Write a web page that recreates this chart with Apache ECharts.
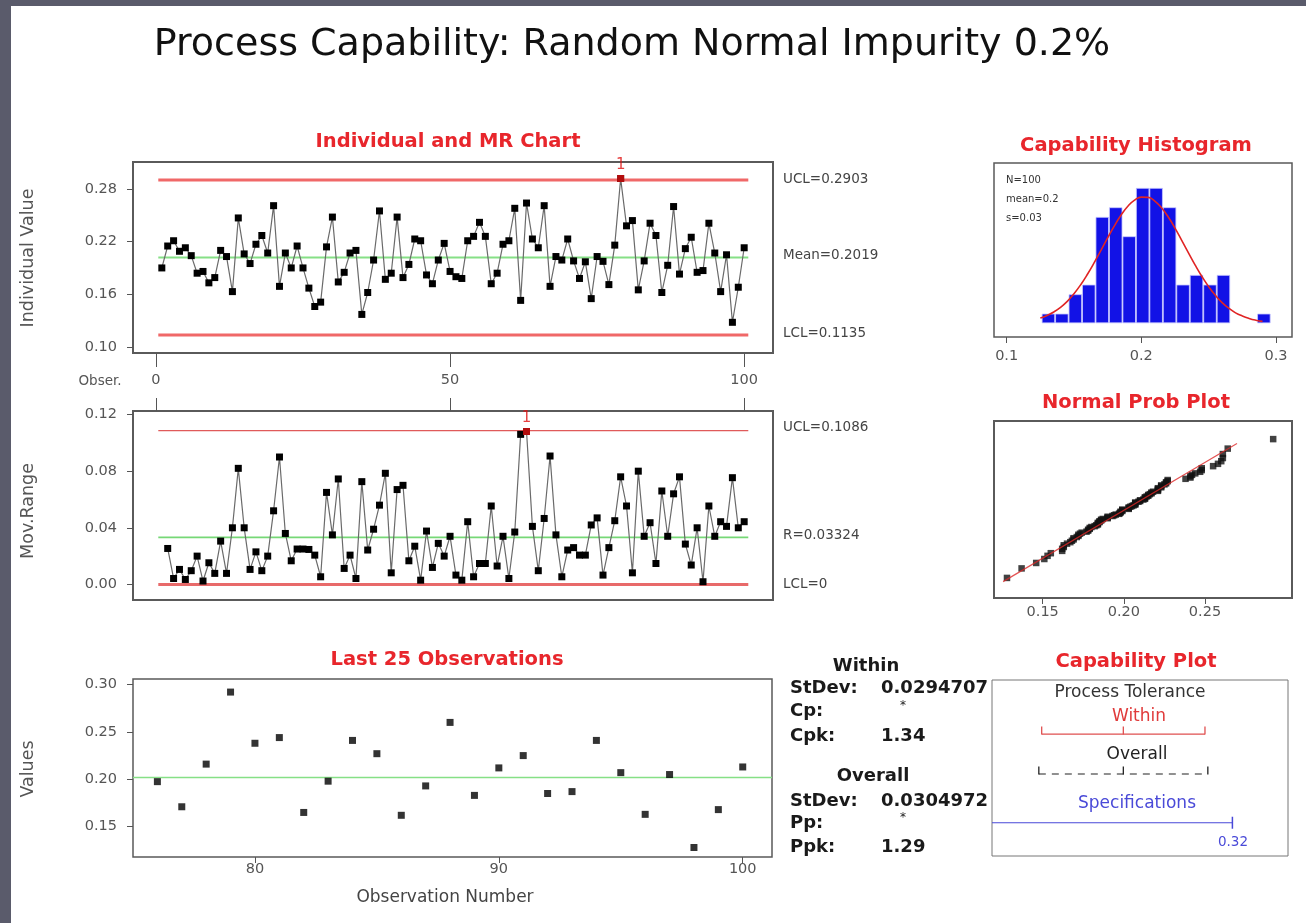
<!DOCTYPE html>
<html><head><meta charset="utf-8">
<script src="https://cdn.jsdelivr.net/npm/echarts@6/dist/echarts.min.js"></script>
<style>
html,body{margin:0;padding:0;background:#5a5b6b;}
#chart{position:absolute;left:0;top:0;width:1306px;height:923px;
background:linear-gradient(#fff,#fff) 11px 6px/1295px 917px no-repeat,#5a5b6b;}
</style></head><body><div id="chart"></div>
<script>
// ---------------- data ----------------
const observations = [
 0.190,0.215,0.221,0.209,0.213,0.204,0.184,0.186,0.173,0.179,
 0.210,0.203,0.163,0.247,0.206,0.195,0.217,0.227,0.207,0.261,
 0.169,0.207,0.190,0.215,0.190,0.167,0.146,0.151,0.214,0.248,
 0.174,0.185,0.207,0.210,0.137,0.162,0.199,0.255,0.177,0.184,
 0.248,0.179,0.194,0.223,0.221,0.182,0.172,0.199,0.218,0.186,
 0.180,0.178,0.221,0.226,0.242,0.226,0.172,0.184,0.217,0.221,
 0.258,0.153,0.264,0.223,0.213,0.261,0.169,0.203,0.199,0.223,
 0.198,0.178,0.197,0.155,0.203,0.1975,0.171,0.216,0.292,0.238,
 0.244,0.165,0.198,0.241,0.227,0.162,0.193,0.260,0.183,0.212,
 0.225,0.185,0.187,0.241,0.207,0.163,0.205,0.128,0.168,0.213
];
// moving ranges for observations 2..100
const movingRanges = [
 0.0254,0.0042,0.0106,0.0035,0.0097,0.020,0.0024,0.0153,0.0078,0.0306,
 0.0078,0.040,0.082,0.040,0.0106,0.023,0.0097,0.020,0.052,0.090,
 0.036,0.0167,0.025,0.025,0.0247,0.0207,0.0054,0.065,0.035,0.0745,
 0.0113,0.0207,0.0042,0.0726,0.0243,0.039,0.056,0.0785,0.0082,0.067,
 0.070,0.0167,0.027,0.003,0.0377,0.012,0.029,0.020,0.034,0.0066,
 0.003,0.0443,0.0054,0.0148,0.0148,0.0554,0.013,0.034,0.0042,0.037,
 0.106,0.108,0.041,0.0097,0.0466,0.0907,0.035,0.0054,0.0243,0.026,
 0.0207,0.0207,0.042,0.047,0.0066,0.026,0.045,0.076,0.0554,0.0082,
 0.080,0.034,0.0436,0.0148,0.066,0.034,0.064,0.076,0.0285,0.0137,
 0.040,0.0019,0.0554,0.034,0.0443,0.041,0.0754,0.040,0.0443
];
const individualLimits = [0.1135, 0.2019, 0.2903];   // LCL, Mean, UCL
const mrLimits = [0, 0.03324, 0.1086];               // LCL, R-bar, UCL
const individualFlags = [79];
const mrFlags = [63];
const last25First = 76;

const histBinCenters = [0.131,0.141,0.151,0.161,0.171,0.181,0.191,0.201,0.211,0.221,0.231,0.241,0.251,0.261,0.271,0.281,0.291];
const histCounts     = [1,1,3,4,11,12,9,14,14,12,4,5,4,5,0,0,1];
const normCurveX = [0.125,0.13,0.135,0.14,0.145,0.15,0.155,0.16,0.165,0.17,0.175,0.18,0.185,0.19,0.195,0.2,0.205,0.21,0.215,0.22,0.225,0.23,0.235,0.24,0.245,0.25,0.255,0.26,0.265,0.27,0.275,0.28,0.285,0.29];
const normCurveY = [0.54,0.81,1.17,1.65,2.27,3.06,3.99,5.07,6.27,7.55,8.84,10.08,11.20,12.11,12.74,13.05,13.02,12.64,11.94,10.99,9.85,8.58,7.29,6.02,4.84,3.79,2.89,2.14,1.55,1.08,0.75,0.50,0.32,0.20];

const probLineX = [0.1256, 0.2697];
const probLineZ = [-2.59, 2.30];

const withinTolerance  = [0.1135, 0.2019, 0.2903];
const overallTolerance = [0.1104, 0.2019, 0.2934];
const specLine = [0.0597, 0.32];   // line runs from the left edge to USL

const obsTicks = [0, 50, 100];
const indTicks = [0.10, 0.16, 0.22, 0.28];
const mrTicks = [0, 0.04, 0.08, 0.12];
const last25XTicks = [80, 90, 100];
const last25YTicks = [0.15, 0.20, 0.25, 0.30];
const histXTicks = [0.1, 0.2, 0.3];
const probXTicks = [0.15, 0.20, 0.25];

// ---------------- helpers ----------------
const FF = '"DejaVu Sans"';
const AX = '#555';
function normInv(p){
  const a=[-3.969683028665376e+01,2.209460984245205e+02,-2.759285104469687e+02,1.383577518672690e+02,-3.066479806614716e+01,2.506628277459239e+00];
  const b=[-5.447609879822406e+01,1.615858368580409e+02,-1.556989798598866e+02,6.680131188771972e+01,-1.328068155288572e+01];
  const c=[-7.784894002430293e-03,-3.223964580411365e-01,-2.400758277161838e+00,-2.549732539343734e+00,4.374664141464968e+00,2.938163982698783e+00];
  const d=[7.784695709041462e-03,3.224671290700398e-01,2.445134137142996e+00,3.754408661907416e+00];
  const pl=0.02425;
  if(p<pl){const q=Math.sqrt(-2*Math.log(p));return (((((c[0]*q+c[1])*q+c[2])*q+c[3])*q+c[4])*q+c[5])/((((d[0]*q+d[1])*q+d[2])*q+d[3])*q+1);}
  if(p>1-pl){const q=Math.sqrt(-2*Math.log(1-p));return -(((((c[0]*q+c[1])*q+c[2])*q+c[3])*q+c[4])*q+c[5])/((((d[0]*q+d[1])*q+d[2])*q+d[3])*q+1);}
  const q=p-0.5,r=q*q;
  return (((((a[0]*r+a[1])*r+a[2])*r+a[3])*r+a[4])*r+a[5])*q/(((((b[0]*r+b[1])*r+b[2])*r+b[3])*r+b[4])*r+1);
}
function xAx(grid, min, max, ticks, fmt, o){
  o = o || {};
  return {type:'value', gridIndex:grid, min, max, position:o.position||'bottom',
    axisLine:{show:false,onZero:false}, splitLine:{show:false},
    axisTick:{show:!!ticks, customValues:ticks||[], length:o.tickLen||6, lineStyle:{color:AX,width:1}},
    axisLabel:{show:!!(ticks&&fmt), customValues:ticks||[], formatter:fmt, margin:o.margin||8, color:AX, fontFamily:FF, fontSize:14.5}};
}
function yAx(grid, min, max, ticks, fmt){
  return {type:'value', gridIndex:grid, min, max,
    axisLine:{show:false,onZero:false}, splitLine:{show:false},
    axisTick:{show:!!ticks, customValues:ticks||[], length:6, lineStyle:{color:AX,width:1}},
    axisLabel:{show:!!ticks, customValues:ticks||[], formatter:fmt, margin:16, color:AX, fontFamily:FF, fontSize:14.5}};
}
function hline(xi, yi, x0, x1, y, color, width, type){
  return {type:'line', xAxisIndex:xi, yAxisIndex:yi, data:[[x0,y],[x1,y]], symbol:'none', silent:true, z:2,
    lineStyle:{color, width, type:type||'solid'}};
}
function txt(x, y, text, size, color, o){
  o = o || {};
  const al = o.align || 'left';
  const el = {type:'text', x, y, silent:true, z:100,
    style:{text, font:(o.weight||'normal')+' '+size+'px '+FF, fill:color,
      textAlign:al, align:al, textVerticalAlign:'middle', verticalAlign:'middle'}};
  if (o.rot) el.rotation = o.rot;
  return el;
}
const fmt2 = v => v.toFixed(2);
const fmt1 = v => v.toFixed(1);

// ---------------- derived plotting data ----------------
const indData = observations.map((v,i)=>[i+1,v]);
const mrData = movingRanges.map((v,i)=>[i+2,v]);
const last25 = observations.slice(last25First-1).map((v,i)=>[last25First+i, v]);
const sorted = observations.slice().sort((a,b)=>a-b);
const nObs = sorted.length;
const probData = sorted.map((v,i)=>[v, normInv((i+1-0.3)/(nObs+0.4))]);
const histData = histBinCenters.map((c,i)=>[c, histCounts[i]]).filter(d=>d[1]>0);
const curveData = normCurveX.map((x,i)=>[x, normCurveY[i]]);

const RED = '#e8262c';
const gridBase = {show:true, backgroundColor:'transparent', containLabel:false};

const option = {
  animation:false,
  grid:[
    Object.assign({left:133, top:162, width:640, height:191, borderColor:'#5a5a5a', borderWidth:2}, gridBase),
    Object.assign({left:133, top:411, width:640, height:189, borderColor:'#5a5a5a', borderWidth:2}, gridBase),
    Object.assign({left:133, top:679, width:639, height:178, borderColor:'#5a5a5a', borderWidth:1.5}, gridBase),
    Object.assign({left:994, top:163, width:298, height:174, borderColor:'#5a5a5a', borderWidth:1.5}, gridBase),
    Object.assign({left:994, top:421, width:298, height:177, borderColor:'#5a5a5a', borderWidth:2}, gridBase),
    Object.assign({left:992, top:680, width:296, height:176, borderColor:'#777', borderWidth:1}, gridBase)
  ],
  xAxis:[
    xAx(0, -3.9, 104.9, obsTicks, v=>String(v), {tickLen:14, margin:20}),
    xAx(1, -3.9, 104.9, obsTicks, null, {tickLen:13, position:'top'}),
    xAx(2, 75, 101.2, last25XTicks, v=>String(v), {margin:5}),
    xAx(3, 0.0906, 0.3119, histXTicks, fmt1, {margin:12}),
    xAx(4, 0.120, 0.3036, probXTicks, fmt2, {margin:7}),
    Object.assign(xAx(5, 0.0597, 0.3802, null, null), {show:false})
  ],
  yAxis:[
    yAx(0, 0.093, 0.3108, indTicks, fmt2),
    yAx(1, -0.011, 0.1225, mrTicks, fmt2),
    yAx(2, 0.118, 0.3058, last25YTicks, fmt2),
    Object.assign(yAx(3, -1.42, 16.58, null, null), {show:false}),
    Object.assign(yAx(4, -3.17, 3.10, null, null), {show:false}),
    Object.assign(yAx(5, 0, 100, null, null), {show:false})
  ],
  series:[
    // Individual chart
    hline(0,0,0.4,100.7,individualLimits[2],'#f06868',3),
    hline(0,0,0.4,100.7,individualLimits[0],'#f06868',3),
    hline(0,0,0.4,100.7,individualLimits[1],'#86e086',2.2),
    {type:'line', xAxisIndex:0, yAxisIndex:0, data:indData, symbol:'rect', symbolSize:7,
     itemStyle:{color:'#000'}, lineStyle:{color:'#6a6a6a', width:1.2}, z:3},
    {type:'scatter', xAxisIndex:0, yAxisIndex:0, data:individualFlags.map(n=>[n, observations[n-1]]),
     symbol:'rect', symbolSize:7, itemStyle:{color:'#e01010'}, z:5,
     label:{show:true, formatter:'1', position:'top', distance:2, color:'#e01010', fontFamily:FF, fontSize:15}},
    // MR chart
    hline(1,1,0.4,100.7,mrLimits[2],'#e05a5a',1.2),
    hline(1,1,0.4,100.7,mrLimits[1],'#76d876',1.6),
    hline(1,1,0.4,100.7,mrLimits[0],'#e86a6a',3),
    {type:'line', xAxisIndex:1, yAxisIndex:1, data:mrData, symbol:'rect', symbolSize:7,
     itemStyle:{color:'#000'}, lineStyle:{color:'#6a6a6a', width:1.2}, z:3},
    {type:'scatter', xAxisIndex:1, yAxisIndex:1, data:mrFlags.map(n=>[n, movingRanges[n-2]]),
     symbol:'rect', symbolSize:7, itemStyle:{color:'#e01010'}, z:5,
     label:{show:true, formatter:'1', position:'top', distance:2, color:'#e01010', fontFamily:FF, fontSize:15}},
    // Last 25
    hline(2,2,75,101.2,individualLimits[1],'#86e086',1.6),
    {type:'scatter', xAxisIndex:2, yAxisIndex:2, data:last25, symbol:'rect', symbolSize:7,
     itemStyle:{color:'#000'}, z:3},
    // Histogram
    {type:'bar', xAxisIndex:3, yAxisIndex:3, data:histData, barWidth:13.4,
     itemStyle:{color:'#1212e6', borderColor:'#c8c8ff', borderWidth:0.8}, z:2},
    {type:'line', xAxisIndex:3, yAxisIndex:3, data:curveData, smooth:true, symbol:'none',
     lineStyle:{color:'#e02424', width:1.6}, z:4},
    // Normal prob plot
    {type:'scatter', xAxisIndex:4, yAxisIndex:4, data:probData, symbol:'rect', symbolSize:6.5,
     itemStyle:{color:'#111'}, z:3},
    {type:'line', xAxisIndex:4, yAxisIndex:4, data:probLineX.map((x,i)=>[x, probLineZ[i]]), symbol:'none',
     lineStyle:{color:'rgba(220,40,40,0.8)', width:1.2}, z:4},
    // Capability plot
    {type:'line', xAxisIndex:5, yAxisIndex:5, data:withinTolerance.map(x=>[x,69.3]),
     symbol:'rect', symbolSize:[1.3,8], symbolOffset:[0,-3.5],
     itemStyle:{color:'#e05050'}, lineStyle:{color:'#e05050', width:1.2}},
    {type:'line', xAxisIndex:5, yAxisIndex:5, data:overallTolerance.map(x=>[x,46.6]),
     symbol:'rect', symbolSize:[1.3,8], symbolOffset:[0,-3.5],
     itemStyle:{color:'#222'}, lineStyle:{color:'#222', width:1.2, type:[7,6]}},
    {type:'line', xAxisIndex:5, yAxisIndex:5,
     data:[{value:[specLine[0],18.9], symbol:'none'}, {value:[specLine[1],18.9]}],
     symbol:'rect', symbolSize:[1.5,12],
     itemStyle:{color:'#4848d8'}, lineStyle:{color:'#4848d8', width:1.2}}
  ],
  graphic:{elements:[
    txt(632, 45, 'Process Capability: Random Normal Impurity 0.2%', 38, '#111', {align:'center'}),
    txt(448, 142, 'Individual and MR Chart', 19.5, RED, {align:'center', weight:'bold'}),
    txt(1136, 146, 'Capability Histogram', 19.5, RED, {align:'center', weight:'bold'}),
    txt(1136, 403, 'Normal Prob Plot', 19.5, RED, {align:'center', weight:'bold'}),
    txt(447, 660, 'Last 25 Observations', 19.5, RED, {align:'center', weight:'bold'}),
    txt(1136, 662, 'Capability Plot', 19.5, RED, {align:'center', weight:'bold'}),
    txt(28, 258, 'Individual Value', 17.5, '#555', {align:'center', rot:Math.PI/2}),
    txt(28, 511, 'Mov.Range', 17.5, '#555', {align:'center', rot:Math.PI/2}),
    txt(28, 769, 'Values', 17.5, '#555', {align:'center', rot:Math.PI/2}),
    txt(445, 898, 'Observation Number', 17, '#444', {align:'center'}),
    txt(100, 381, 'Obser.', 13.5, '#555', {align:'center'}),
    txt(783, 179, 'UCL=0.2903', 13.5, '#444'),
    txt(783, 255, 'Mean=0.2019', 13.5, '#444'),
    txt(783, 333, 'LCL=0.1135', 13.5, '#444'),
    txt(783, 427, 'UCL=0.1086', 13.5, '#444'),
    txt(783, 535, 'R=0.03324', 13.5, '#444'),
    txt(783, 584, 'LCL=0', 13.5, '#444'),
    txt(1006, 180, 'N=100', 10, '#333'),
    txt(1006, 199, 'mean=0.2', 10, '#333'),
    txt(1006, 218, 's=0.03', 10, '#333'),
    txt(866, 666, 'Within', 18, '#1a1a1a', {align:'center', weight:'bold'}),
    txt(790, 688, 'StDev:', 18, '#1a1a1a', {weight:'bold'}),
    txt(881, 688, '0.0294707', 18, '#1a1a1a', {weight:'bold'}),
    txt(790, 711, 'Cp:', 18, '#1a1a1a', {weight:'bold'}),
    txt(903, 706, '*', 12, '#1a1a1a', {align:'center'}),
    txt(790, 736, 'Cpk:', 18, '#1a1a1a', {weight:'bold'}),
    txt(881, 736, '1.34', 18, '#1a1a1a', {weight:'bold'}),
    txt(873, 776, 'Overall', 18, '#1a1a1a', {align:'center', weight:'bold'}),
    txt(790, 801, 'StDev:', 18, '#1a1a1a', {weight:'bold'}),
    txt(881, 801, '0.0304972', 18, '#1a1a1a', {weight:'bold'}),
    txt(790, 823, 'Pp:', 18, '#1a1a1a', {weight:'bold'}),
    txt(903, 818, '*', 12, '#1a1a1a', {align:'center'}),
    txt(790, 847, 'Ppk:', 18, '#1a1a1a', {weight:'bold'}),
    txt(881, 847, '1.29', 18, '#1a1a1a', {weight:'bold'}),
    txt(1130, 693, 'Process Tolerance', 17, '#333', {align:'center'}),
    txt(1139, 717, 'Within', 17, '#e03a3a', {align:'center'}),
    txt(1137, 755, 'Overall', 17, '#222', {align:'center'}),
    txt(1137, 804, 'Specifications', 17, '#4a4ad8', {align:'center'}),
    txt(1233, 842, '0.32', 13.5, '#4a4ad8', {align:'center'})
  ]}
};
const chart = echarts.init(document.getElementById('chart'), null, {renderer:'canvas'});
chart.setOption(option);
</script></body></html>
